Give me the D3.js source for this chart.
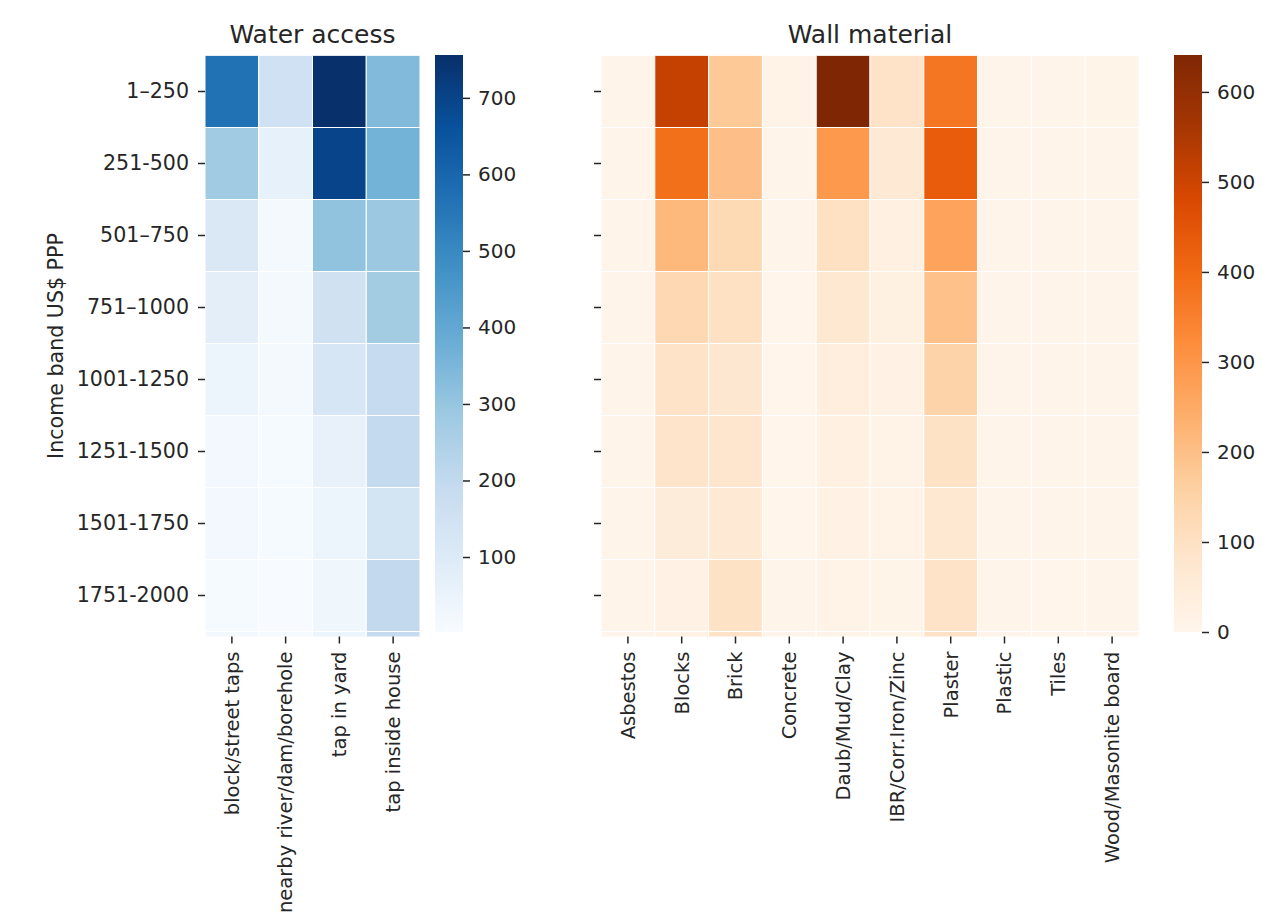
<!DOCTYPE html>
<html>
<head>
<meta charset="utf-8">
<script src="https://cdn.jsdelivr.net/npm/d3@7"></script>
<style>
  body { margin: 0; background: #fff; }
  text { font-family: "DejaVu Sans", sans-serif; fill: #262626; }
</style>
</head>
<body>
<svg id="chart" width="1273" height="920"></svg>
<script>
// rows (last band only shows as a sliver at the bottom, like the original)
const incomeBands = ["1–250", "251-500", "501–750", "751–1000", "1001-1250",
                     "1251-1500", "1501-1750", "1751-2000", "2001-2250"];

const waterTypes = ["block/street taps", "nearby river/dam/borehole", "tap in yard", "tap inside house"];
const waterValues = [
  [567, 155, 756, 337],
  [278,  62, 699, 362],
  [112,  13, 309, 289],
  [ 77,  12, 151, 273],
  [ 40,  12, 128, 190],
  [ 21,  10,  59, 195],
  [ 17,   8,  40, 139],
  [ 10,   2,  32, 198],
  [ 20,  10,  40, 190]
];

const wallTypes = ["Asbestos", "Blocks", "Brick", "Concrete", "Daub/Mud/Clay",
                   "IBR/Corr.Iron/Zinc", "Plaster", "Plastic", "Tiles", "Wood/Masonite board"];
const wallValues = [
  [5, 512, 176, 12, 641, 91, 372, 3, 3, 8],
  [4, 385, 200,  6, 292, 64, 432, 3, 3, 6],
  [4, 215, 128,  4, 102, 27, 267, 3, 3, 5],
  [4, 131, 102,  2,  69, 24, 196, 4, 4, 4],
  [4,  91,  75,  2,  37, 22, 146, 4, 4, 4],
  [4,  87,  80,  2,  25, 15,  95, 4, 4, 4],
  [3,  48,  64,  2,  16, 12,  69, 4, 4, 4],
  [3,  17,  95,  3,  10,  8,  91, 4, 0, 4],
  [4,  17,  90,  3,  10,  8,  95, 4, 2, 4]
];

const svg = d3.select("#chart");

const axTop = 55.5, rowH = 72, axBottom = 636.5;
const cbTop = 55, cbBottom = 632, cbWidth = 28;
const xTickFont = 19.5, yTickFont = 20.6, cbFont = 20, titleFont = 25;

const yScale = d3.scaleBand()
    .domain(incomeBands)
    .range([axTop, axTop + rowH * incomeBands.length]);

function drawHeatmap(cfg) {
  const xScale = d3.scaleBand().domain(cfg.cols).range([cfg.x0, cfg.x1]);

  // matplotlib style: linear segments through the 9 brewer colours, data min/max as limits
  const flat = cfg.values.flat();
  const [vmin, vmax] = d3.extent(flat);
  const color = d3.scaleLinear()
      .domain(d3.range(9).map(i => vmin + i * (vmax - vmin) / 8))
      .range(cfg.scheme)
      .interpolate(d3.interpolateRgb);

  const clipId = "clip-" + cfg.id;
  svg.append("clipPath").attr("id", clipId)
    .append("rect")
      .attr("x", cfg.x0).attr("y", axTop)
      .attr("width", cfg.x1 - cfg.x0).attr("height", axBottom - axTop);

  const cells = [];
  cfg.values.forEach((row, i) => row.forEach((v, j) => {
    cells.push({ row: incomeBands[i], col: cfg.cols[j], value: v });
  }));

  svg.append("g")
      .attr("clip-path", `url(#${clipId})`)
    .selectAll("rect")
    .data(cells)
    .join("rect")
      .attr("x", d => xScale(d.col))
      .attr("y", d => yScale(d.row))
      .attr("width", xScale.bandwidth())
      .attr("height", yScale.bandwidth())
      .attr("fill", d => color(d.value))
      .attr("stroke", "#fff")
      .attr("stroke-width", 1);

  // x axis with vertical labels
  const xAxisG = svg.append("g")
      .attr("transform", `translate(0,${axBottom})`)
      .call(d3.axisBottom(xScale).tickSize(7).tickPadding(0));
  xAxisG.select(".domain").remove();
  xAxisG.selectAll(".tick line").attr("stroke", "#262626").attr("stroke-width", 1.5);
  xAxisG.selectAll(".tick text")
      .attr("transform", "rotate(-90)")
      .attr("x", -15)
      .attr("y", 0)
      .attr("dy", "0.35em")
      .attr("text-anchor", "end")
      .attr("font-size", xTickFont)
      .attr("font-family", "DejaVu Sans")
      .attr("fill", "#262626");

  // y axis, only bands whose centre is inside the axes
  const visibleBands = incomeBands.filter(d => yScale(d) + yScale.bandwidth() / 2 < axBottom);
  const yAxisG = svg.append("g")
      .attr("transform", `translate(${cfg.x0},0)`)
      .call(d3.axisLeft(yScale).tickValues(visibleBands).tickSize(7).tickPadding(9));
  yAxisG.select(".domain").remove();
  yAxisG.selectAll(".tick line").attr("stroke", "#262626").attr("stroke-width", 1.5);
  yAxisG.selectAll(".tick text")
      .attr("font-size", yTickFont)
      .attr("font-family", "DejaVu Sans")
      .attr("fill", "#262626")
      .text(d => cfg.yLabels ? d : "");

  // title
  svg.append("text")
      .attr("x", (cfg.x0 + cfg.x1) / 2)
      .attr("y", 43)
      .attr("text-anchor", "middle")
      .attr("font-size", titleFont)
      .text(cfg.title);

  // colorbar
  const gradId = "grad-" + cfg.id;
  const grad = svg.append("defs").append("linearGradient")
      .attr("id", gradId)
      .attr("x1", 0).attr("y1", 1).attr("x2", 0).attr("y2", 0);
  d3.range(33).forEach(i => {
    grad.append("stop")
        .attr("offset", i / 32)
        .attr("stop-color", color(vmin + (vmax - vmin) * i / 32));
  });
  svg.append("rect")
      .attr("x", cfg.cbX).attr("y", cbTop)
      .attr("width", cbWidth).attr("height", cbBottom - cbTop)
      .attr("fill", `url(#${gradId})`);

  const cbScale = d3.scaleLinear().domain([vmin, vmax]).range([cbBottom, cbTop]);
  const cbAxisG = svg.append("g")
      .attr("transform", `translate(${cfg.cbX + cbWidth},0)`)
      .call(d3.axisRight(cbScale).ticks(7).tickSize(7).tickPadding(8));
  cbAxisG.select(".domain").remove();
  cbAxisG.selectAll(".tick line").attr("stroke", "#262626").attr("stroke-width", 1.5);
  cbAxisG.selectAll(".tick text")
      .attr("font-size", cbFont)
      .attr("font-family", "DejaVu Sans")
      .attr("fill", "#262626");
}

drawHeatmap({
  id: "water", title: "Water access", cols: waterTypes, values: waterValues,
  scheme: d3.schemeBlues[9], x0: 205, x1: 420, cbX: 435, yLabels: true
});

drawHeatmap({
  id: "wall", title: "Wall material", cols: wallTypes, values: wallValues,
  scheme: d3.schemeOranges[9], x0: 601, x1: 1139, cbX: 1174, yLabels: false
});

// shared y label
svg.append("text")
    .attr("transform", `translate(63,${(axTop + axBottom) / 2}) rotate(-90)`)
    .attr("text-anchor", "middle")
    .attr("font-size", yTickFont)
    .text("Income band US$ PPP");
</script>
</body>
</html>
